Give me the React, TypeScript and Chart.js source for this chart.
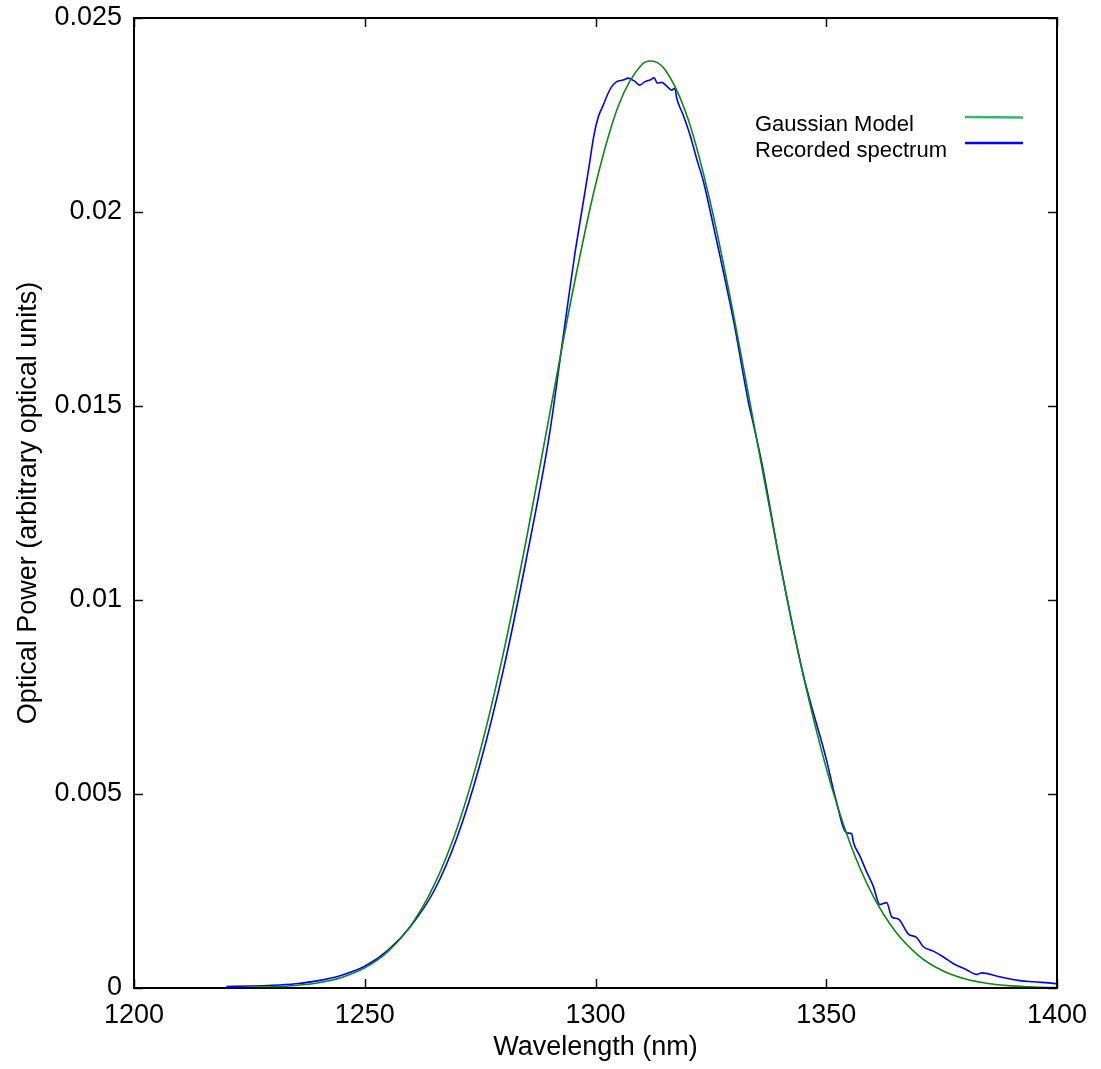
import React, { useEffect, useRef } from "react";
import { Chart, registerables } from "chart.js";

Chart.register(...registerables);

const xTickValues = [1200, 1250, 1300, 1350, 1400];
const yTickValues = [0, 0.005, 0.01, 0.015, 0.02, 0.025];
const seriesLabels = ["Gaussian Model", "Recorded spectrum"];

const gaussWavelength = [
  1220, 1225, 1230, 1235, 1240, 1245, 1250, 1255, 1260, 1265, 1270, 1275, 1280,
  1285, 1290, 1295, 1300, 1305, 1310, 1312, 1315, 1320, 1325, 1330, 1335, 1340,
  1345, 1350, 1355, 1360, 1365, 1370, 1375, 1380, 1385, 1390, 1395, 1400,
];
const gaussPower = [
  0.0000052, 0.0000127, 0.0000294, 0.000065, 0.0001365, 0.000273, 0.000518,
  0.000938, 0.001614, 0.002645, 0.004119, 0.006106, 0.00861, 0.011553, 0.01475,
  0.017913, 0.020696, 0.02275, 0.023795, 0.02389, 0.023677, 0.022414, 0.020187,
  0.017299, 0.014102, 0.010937, 0.00807, 0.005667, 0.003784, 0.002406, 0.001454,
  0.000836, 0.000458, 0.000238, 0.000118, 0.0000556, 0.0000249, 0.0000106,
];

const spectrumWavelength = [
  1220, 1225, 1230, 1235, 1240, 1245, 1250, 1255, 1260, 1265, 1270, 1275, 1280,
  1285, 1290, 1292.7, 1294.1, 1295.5, 1297, 1298.5, 1299.7, 1300.6, 1301.7,
  1302.4, 1303.5, 1304.6, 1306.0, 1307.1, 1308.6, 1309.6, 1310.7, 1311.8, 1312.7,
  1313.4, 1314.3, 1315.4, 1316.5, 1317.2, 1317.6, 1319.0, 1320.5, 1321.9, 1323.4,
  1324.4, 1327, 1330, 1333.3, 1333.6, 1336, 1340, 1345, 1350, 1352, 1354.4, 1355.5,
  1355.9, 1357.3, 1358.8, 1360.2, 1361.6, 1363.1, 1364.2, 1365.6, 1367.8, 1369.6,
  1371.0, 1373.2, 1375.4, 1377.5, 1380.4, 1382.6, 1383.7, 1386.9, 1389.1, 1392.0,
  1394.9, 1399.2, 1400,
];
const spectrumPower = [
  0.00004, 0.00005, 0.00007, 0.00011, 0.00019, 0.00033, 0.00056, 0.00097,
  0.0016, 0.0025, 0.00388, 0.00578, 0.00818, 0.01105, 0.01425, 0.01653, 0.01773,
  0.0189, 0.02, 0.0211, 0.022, 0.02245, 0.02276, 0.02297, 0.02323, 0.02336,
  0.0234, 0.02345, 0.02336, 0.02327, 0.02336, 0.0234, 0.02346, 0.02332, 0.02334,
  0.02325, 0.02314, 0.02319, 0.02293, 0.0225, 0.02198, 0.02138, 0.02078, 0.02027,
  0.01885, 0.01715, 0.015, 0.01485, 0.01355, 0.01095, 0.00808, 0.0059, 0.0049,
  0.004, 0.00398, 0.00375, 0.0034, 0.00298, 0.00262, 0.00215, 0.0022, 0.00183,
  0.00178, 0.00139, 0.0013, 0.00107, 0.00095, 0.0008, 0.00063, 0.00047, 0.00035,
  0.00039, 0.00031, 0.00025, 0.00019, 0.00016, 0.00012, 0.00011,
];

const FONT = "'Liberation Sans', Arial, Helvetica, sans-serif";

const frameAndLegend = {
  id: "frameAndLegend",
  afterDraw(chart: any) {
    const { ctx, chartArea: a, scales } = chart;
    const x = scales.x;
    const y = scales.y;
    const tl = 9;
    ctx.save();
    ctx.strokeStyle = "#111";
    ctx.lineWidth = 1.5;
    ctx.beginPath();
    xTickValues.forEach((v) => {
      const px = Math.round(x.getPixelForValue(v)) + 0.5;
      ctx.moveTo(px, a.bottom);
      ctx.lineTo(px, a.bottom - tl);
      ctx.moveTo(px, a.top);
      ctx.lineTo(px, a.top + tl);
    });
    yTickValues.forEach((v) => {
      const py = Math.round(y.getPixelForValue(v)) + 0.5;
      ctx.moveTo(a.left, py);
      ctx.lineTo(a.left + tl, py);
      ctx.moveTo(a.right, py);
      ctx.lineTo(a.right - tl, py);
    });
    ctx.stroke();
    ctx.strokeStyle = "#000";
    ctx.lineWidth = 2;
    ctx.strokeRect(a.left, a.top, a.right - a.left, a.bottom - a.top);

    // legend
    ctx.font = `22px ${FONT}`;
    ctx.fillStyle = "#000";
    ctx.textAlign = "left";
    ctx.textBaseline = "alphabetic";
    const tx = a.right - 302;
    const lx0 = a.right - 92;
    const lx1 = a.right - 34;
    const legendColors = ["#3cb371", "#0000ff"];
    seriesLabels.forEach((lab, i) => {
      const base = a.top + 113 + i * 26;
      ctx.fillText(lab, tx, base);
      ctx.strokeStyle = legendColors[i];
      ctx.lineWidth = 2.5;
      ctx.beginPath();
      ctx.moveTo(lx0, base - 14);
      ctx.lineTo(lx1, base - 14 + (i === 0 ? 0.5 : 0));
      ctx.stroke();
    });
    ctx.restore();
  },
};

export default function App() {
  const canvasRef = useRef<HTMLCanvasElement | null>(null);

  useEffect(() => {
    const canvas = canvasRef.current;
    if (!canvas) return;
    const gaussData = gaussWavelength.map((w, i) => ({ x: w, y: gaussPower[i] }));
    const specData = spectrumWavelength.map((w, i) => ({ x: w, y: spectrumPower[i] }));
    const chart = new Chart(canvas, {
      type: "line",
      data: {
        datasets: [
          {
            label: seriesLabels[0],
            data: gaussData,
            borderColor: "#0a8a0a",
            borderWidth: 1.6,
            pointRadius: 0,
            cubicInterpolationMode: "monotone",
            fill: false,
          },
          {
            label: seriesLabels[1],
            data: specData,
            borderColor: "#0000ff",
            borderWidth: 1.6,
            pointRadius: 0,
            cubicInterpolationMode: "monotone",
            fill: false,
          },
        ],
      },
      options: {
        animation: false,
        responsive: false,
        devicePixelRatio: 1,
        layout: { padding: { top: 18, right: 44, left: 0, bottom: 0 } },
        plugins: {
          legend: { display: false },
          tooltip: { enabled: false },
        },
        scales: {
          x: {
            type: "linear",
            min: 1200,
            max: 1400,
            grid: { display: false, drawTicks: false },
            border: { display: false },
            afterBuildTicks: (s: any) => {
              s.ticks = xTickValues.map((v) => ({ value: v }));
            },
            afterFit: (s: any) => {
              s.height = 81;
              s.paddingLeft = 0;
              s.paddingRight = 0;
            },
            ticks: {
              color: "#000",
              padding: 11,
              maxRotation: 0,
              font: { family: FONT, size: 27 },
              callback: (v: any) => String(v),
            },
            title: {
              display: true,
              text: "Wavelength (nm)",
              color: "#000",
              font: { family: FONT, size: 27 },
              padding: { top: 0, bottom: 5 },
            },
          },
          y: {
            type: "linear",
            min: 0,
            max: 0.025,
            grid: { display: false, drawTicks: false },
            border: { display: false },
            afterBuildTicks: (s: any) => {
              s.ticks = yTickValues.map((v) => ({ value: v }));
            },
            afterFit: (s: any) => {
              s.width = 134;
              s.paddingTop = 0;
              s.paddingBottom = 0;
            },
            ticks: {
              color: "#000",
              padding: 12,
              font: { family: FONT, size: 27 },
              callback: (v: any) => String(Number(Number(v).toFixed(3))),
            },
            title: {
              display: true,
              text: "Optical Power (arbitrary optical units)",
              color: "#000",
              font: { family: FONT, size: 27 },
              padding: { top: 12, bottom: 0 },
            },
          },
        },
      },
      plugins: [frameAndLegend],
    });
    return () => chart.destroy();
  }, []);

  return (
    <div style={{ position: "absolute", left: 0, top: 0, width: 1101, height: 1069, background: "#fff" }}>
      <canvas ref={canvasRef} width={1101} height={1069} style={{ display: "block" }} />
    </div>
  );
}
